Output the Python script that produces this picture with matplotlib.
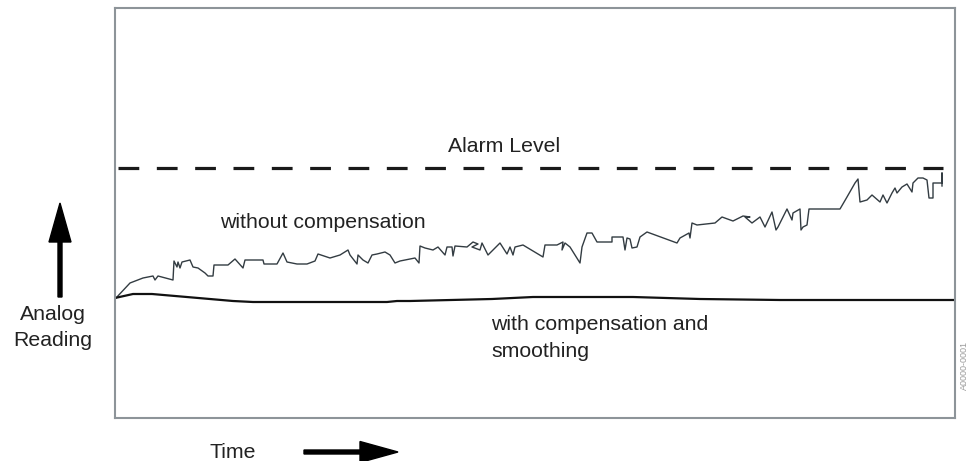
import matplotlib
matplotlib.use("Agg")
import matplotlib.pyplot as plt
from matplotlib.patches import FancyArrow

plt.rcParams["font.family"] = ["Liberation Sans", "DejaVu Sans"]

# reading without compensation (time, reading) - arbitrary units
raw_time = [1, 15, 28, 38, 40, 43, 58, 59, 62, 63, 65, 67, 75, 78, 83, 90, 93, 98, 99,
            113, 120, 128, 130, 148, 149, 162, 168, 172, 182, 192, 200, 203, 215, 225,
            233, 235, 242, 243, 248, 253, 257, 262, 270, 275, 280, 285, 300, 304, 305,
            310, 318, 323, 330, 332, 337, 338, 340, 352, 358, 363, 357, 365, 367, 373,
            380, 385, 392, 395, 398, 400, 408, 428, 430, 442, 448, 447, 450, 455, 460,
            465, 467, 472, 477, 482, 497, 497, 508, 510, 512, 515, 517, 522, 525, 532,
            562, 565, 574, 575, 577, 582, 600, 607, 618, 628, 635, 630, 637, 645, 650,
            657, 661, 663, 672, 677, 678, 685, 686, 688, 692, 694, 725, 732, 740, 743,
            745, 752, 757, 765, 768, 772, 777, 780, 782, 787, 792, 797, 798, 803, 808,
            812, 814, 818, 818, 827, 827, 827]
raw_reading = [120, 135, 140, 142, 138, 142, 138, 157, 151, 156, 150, 156, 158, 151, 150,
               145, 142, 142, 153, 153, 159, 150, 158, 158, 154, 154, 165, 156, 154, 154,
               157, 164, 160, 163, 168, 163, 154, 163, 158, 155, 163, 164, 166, 163, 155,
               157, 160, 155, 172, 170, 168, 171, 163, 171, 171, 162, 172, 171, 176, 174,
               171, 168, 175, 163, 170, 175, 164, 171, 163, 171, 173, 161, 173, 173, 176,
               168, 175, 171, 163, 155, 171, 185, 185, 176, 176, 181, 181, 168, 180, 179,
               170, 171, 181, 186, 175, 180, 185, 180, 195, 193, 195, 201, 197, 202, 201,
               201, 195, 201, 191, 206, 188, 191, 209, 198, 205, 209, 188, 191, 193, 209,
               209, 221, 235, 239, 216, 218, 223, 216, 223, 215, 225, 230, 225, 231, 234,
               226, 235, 240, 240, 238, 220, 220, 235, 235, 245, 232]

# reading with compensation and smoothing
smooth_time = [0, 18, 37, 118, 138, 272, 282, 295, 377, 418, 518, 585, 665, 840]
smooth_reading = [120, 124, 124, 117, 116, 116, 117, 117, 119, 121, 121, 119, 118, 118]

alarm_level = 250

fig = plt.figure(figsize=(9.7, 4.61), dpi=100)
ax = fig.add_axes([115 / 970, 43 / 461, 840 / 970, 410 / 461])
ax.set_xlim(0, 840)
ax.set_ylim(0, 410)
ax.set_xticks([])
ax.set_yticks([])
for s in ax.spines.values():
    s.set_color("#8d9499")
    s.set_linewidth(1.5)

ax.plot(raw_time, raw_reading, color="#333c42", lw=1.0)
ax.plot(smooth_time, smooth_reading, color="#111111", lw=1.6)
ax.plot([3, 828], [alarm_level, alarm_level], color="#1a1a1a", lw=2.3,
        linestyle=(0, (6.5, 5.5)))

# overlay in pixel coordinates for labels and arrows
ov = fig.add_axes([0, 0, 1, 1], facecolor="none")
ov.set_xlim(0, 970)
ov.set_ylim(461, 0)
ov.axis("off")

txt = dict(fontsize=15.3, color="#222222", va="baseline")
ov.text(504, 152, "Alarm Level", ha="center", **txt)
ov.text(220, 228, "without compensation", ha="left", **txt)
ov.text(491, 330, "with compensation and", ha="left", **txt)
ov.text(491, 357, "smoothing", ha="left", **txt)
ov.text(53, 320, "Analog", ha="center", **txt)
ov.text(53, 346, "Reading", ha="center", **txt)
ov.text(233, 458, "Time", ha="center", **txt)

ov.add_patch(FancyArrow(60, 297, 0, -94, width=4, head_width=22, head_length=39,
                        length_includes_head=True, color="black"))
ov.add_patch(FancyArrow(304, 452, 94, 0, width=4, head_width=21, head_length=38,
                        length_includes_head=True, color="black"))

ov.text(964, 365, "A0000-0001", rotation=90, fontsize=6.5, color="#9a9a9a",
        ha="center", va="center")

fig.savefig("out.png", dpi=100)
